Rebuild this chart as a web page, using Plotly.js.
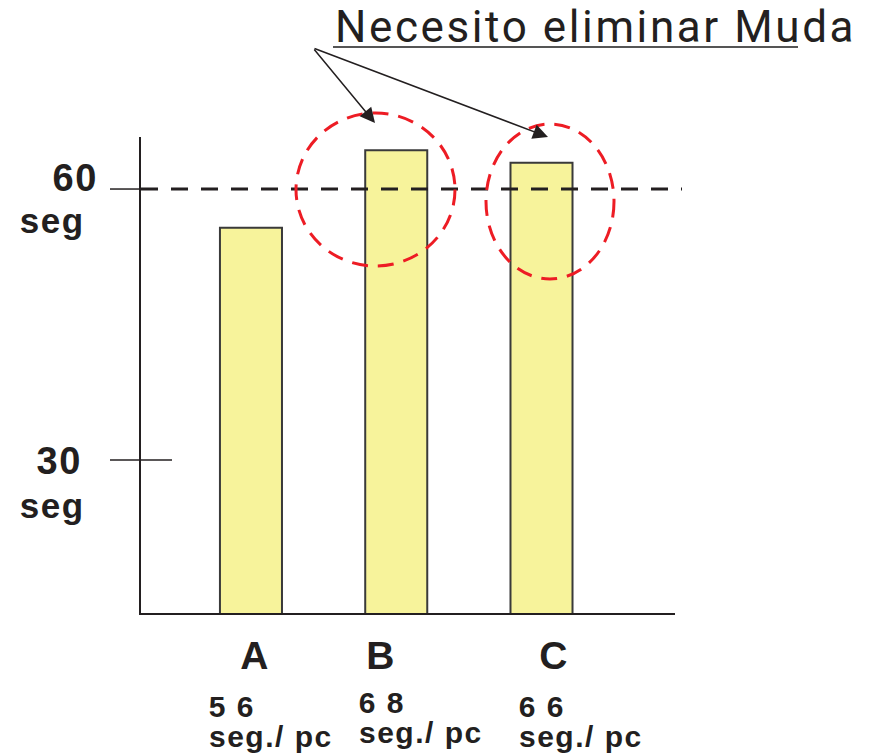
<!DOCTYPE html>
<html><head><meta charset="utf-8">
<script src="https://cdn.plot.ly/plotly-3.0.1.min.js"></script>
<style>
html,body{margin:0;padding:0;background:#fff}
#chart .gtitle{letter-spacing:2.6px}
#chart .annotation-text{letter-spacing:1.5px}
</style>
</head><body>
<div id="chart" style="width:877px;height:755px"></div>
<script>
// ---- data ----
const categories = ['A', 'B', 'C'];
const cycleTimes = [55.7, 64.3, 62.9];          // bar heights as drawn (seg)
const cycleLabels = ['5 6', '6 8', '6 6'];      // printed values under bars
const unitLabel = 'seg./ pc';
const taktTime = 60;
const yTickValues = [30, 60];
const yTickLabels = ['30', '60'];
const yUnit = 'seg';
const titleText = 'Necesito eliminar Muda';
const highlighted = ['B', 'C'];

// ---- layout helpers (pixel -> paper) ----
const L = 141, R = 675, T = 137, B = 613;
const px = x => (x - L) / (R - L);
const py = y => (B - y) / (B - T);
const INK = '#231F20';
const RED = '#ED1C24';
const BOLD = 'Liberation Sans, Arial, sans-serif';

const trace = {
  type: 'bar',
  x: categories,
  y: cycleTimes,
  marker: { color: '#F7F39B', line: { color: '#3A3A3A', width: 2 } },
  hoverinfo: 'x+y'
};

const shapes = [];
const annotations = [];

// takt line (dashed) at 60
shapes.push({ type: 'line', xref: 'paper', yref: 'y', x0: px(141), x1: px(682), y0: taktTime, y1: taktTime,
  line: { color: INK, width: 3, dash: '17px,13px' } });
// tick marks
yTickValues.forEach((v, i) => {
  const right = v === taktTime ? 141 : 172;
  shapes.push({ type: 'line', xref: 'paper', yref: 'y', x0: px(110), x1: px(right), y0: v, y1: v,
    line: { color: INK, width: 1.5 } });
});
// y tick labels
const tickPos = { '60': [98, 177.5, 220], '30': [82, 460.5, 505] };
yTickLabels.forEach(t => {
  annotations.push({ xref: 'paper', yref: 'paper', x: px(tickPos[t][0]), y: py(tickPos[t][1]), xanchor: 'right', yanchor: 'middle',
    text: '<b>' + t + '</b>', showarrow: false, font: { family: BOLD, size: 38, color: INK } });
  annotations.push({ xref: 'paper', yref: 'paper', x: px(20), y: py(tickPos[t][2]), xanchor: 'left', yanchor: 'middle',
    text: '<b>' + yUnit + '</b>', showarrow: false, font: { family: BOLD, size: 35, color: INK } });
});

// category labels and value labels
const catCenterX = [255, 381, 554];
const valLeftX = [208, 358, 518];
const valCenterY = [[706.5, 736.5], [702.5, 732.5], [706.5, 736.5]];
categories.forEach((c, i) => {
  annotations.push({ xref: 'paper', yref: 'paper', x: px(catCenterX[i]), y: py(655), xanchor: 'center', yanchor: 'middle',
    text: '<b>' + c + '</b>', showarrow: false, font: { family: BOLD, size: 39, color: INK } });
  annotations.push({ xref: 'paper', yref: 'paper', x: px(valLeftX[i] + 1), y: py(valCenterY[i][0]), xanchor: 'left', yanchor: 'middle',
    text: '<b>' + cycleLabels[i] + '</b>', showarrow: false, font: { family: BOLD, size: 30, color: INK } });
  annotations.push({ xref: 'paper', yref: 'paper', x: px(valLeftX[i] + 5), y: py(valCenterY[i][1]), xanchor: 'left', yanchor: 'middle',
    text: '<b>' + unitLabel + '</b>', showarrow: false, font: { family: BOLD, size: 30, color: INK } });
});

// red dashed circles around bars over takt time
const circleBoxes = { B: [296, 455, 113, 266], C: [486, 614, 124, 279] };
const arrowTips = { B: [375, 123], C: [548, 137] };
const arrowTail = [313, 48];
highlighted.forEach(c => {
  const b = circleBoxes[c];
  shapes.push({ type: 'circle', xref: 'paper', yref: 'paper', x0: px(b[0]), x1: px(b[1]), y0: py(b[3]), y1: py(b[2]),
    line: { color: RED, width: 3, dash: '16px,10px' } });
  const tip = arrowTips[c];
  annotations.push({ xref: 'paper', yref: 'paper', x: px(tip[0]), y: py(tip[1]), text: '', showarrow: true,
    ax: arrowTail[0] - tip[0], ay: arrowTail[1] - tip[1], arrowhead: 2, arrowsize: 2, arrowwidth: 1.5,
    arrowcolor: INK, standoff: 0 });
});
// title underline
shapes.push({ type: 'line', xref: 'paper', yref: 'paper', x0: px(333), x1: px(798), y0: py(47), y1: py(47),
  line: { color: '#555', width: 2 } });

const layout = {
  width: 877, height: 755,
  margin: { l: L, r: 877 - R, t: T, b: 755 - B, pad: 0 },
  paper_bgcolor: '#fff', plot_bgcolor: 'rgba(0,0,0,0)',
  showlegend: false,
  bargap: 0.573,
  title: { text: titleText, x: 335 / 877, xanchor: 'left', xref: 'container', yref: 'container',
    y: 1 - 27 / 755, yanchor: 'middle', font: { family: 'Roboto, sans-serif', size: 44, color: INK } },
  xaxis: { type: 'category', range: [-0.757, 2.919], showline: true, linecolor: INK, linewidth: 2,
    showticklabels: false, ticks: '', showgrid: false, zeroline: false, fixedrange: true },
  yaxis: { range: [13.06, 65.76], showline: true, linecolor: INK, linewidth: 2,
    showticklabels: false, ticks: '', showgrid: false, zeroline: false, fixedrange: true },
  shapes: shapes,
  annotations: annotations
};

Plotly.newPlot('chart', [trace], layout, { displayModeBar: false, staticPlot: true });
</script>
</body></html>
